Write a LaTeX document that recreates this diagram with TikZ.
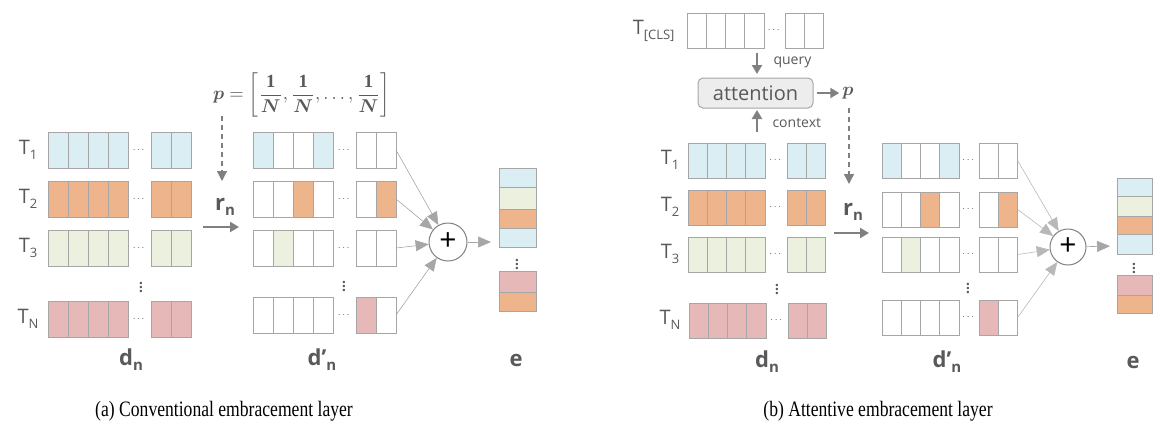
\documentclass[tikz,border=0pt]{standalone}
\usepackage{amsmath,bm}
\usepackage{fontspec}
\setmainfont{Liberation Serif}
\newfontfamily\osans{Open Sans}
\usetikzlibrary{arrows.meta}
\definecolor{cB}{HTML}{DAEEF3}
\definecolor{cO}{HTML}{EEB58C}
\definecolor{cG}{HTML}{EBF1DE}
\definecolor{cP}{HTML}{E6B9B8}
\definecolor{cW}{HTML}{FFFFFF}
\definecolor{txt}{HTML}{595959}
\definecolor{edgec}{HTML}{A6A6A6}
\definecolor{lite}{HTML}{B8B8B8}
\definecolor{arr}{HTML}{808080}
\newcommand\cw{20}
\newcommand\rh{36}
% #1 name, #2 x of first group, #3 x of second group, #4 top y, #5 six colours
\newcommand\vecrow[5]{%
  \foreach \col [count=\i] in {#5} {
    \ifnum\i<5 \pgfmathsetmacro\xx{#2+(\i-1)*\cw}\else\pgfmathsetmacro\xx{#3+(\i-5)*\cw}\fi
    \filldraw[cellbox, fill=\col] (\xx,#4) rectangle ++(\cw,\rh);
  }
  \node[hdots] (#1-d) at ({(#2+4*\cw+#3)/2}, {#4+\rh/2}) {$\cdots$};
  \coordinate (#1-e) at ({#3+2*\cw}, {#4+\rh/2});
}
\newcommand\tlab[1]{T\raisebox{-5pt}{\fontsize{13}{13}\selectfont #1}}
\newcommand\blab[2]{#1\raisebox{-5pt}{\fontsize{15}{15}\selectfont #2}}
\begin{document}
\begin{tikzpicture}[x=1pt,y=-1pt,
  cellbox/.style={draw=edgec, line width=1pt},
  hdots/.style={text=txt, inner sep=0pt},
  vdotsn/.style={text=txt, inner sep=0pt, font=\fontsize{15}{15}\selectfont\bfseries},
  tl/.style={text=txt, font=\fontsize{20}{21}\selectfont\osans},
  bl/.style={text=txt, font=\fontsize{22}{24}\selectfont\osans\bfseries},
  sl/.style={text=txt, font=\fontsize{14}{15}\selectfont\osans},
  fat/.style={draw=arr, line width=2.6pt, -{Triangle[length=9pt,width=10pt]}},
  thinarr/.style={draw=edgec, line width=0.6pt, -{Triangle[length=13pt,width=11pt]}},
  dasharr/.style={draw=arr, line width=1.3pt, dash pattern=on 5pt off 4pt, -{Triangle[length=10pt,width=10pt]}},
  plus/.style={circle, draw=arr, line width=1pt, minimum size=38pt, inner sep=0pt, fill=white,
    font=\fontsize{30}{30}\selectfont\osans, text=black},
  captext/.style={font=\fontsize{22}{24}\selectfont, text=black},
]
\useasboundingbox (0,0) rectangle (1173,432);

% ================= (a) =================
\node[tl] (ta1) at (28,150) {\tlab{1}};
\node[tl] (ta2) at (28,199) {\tlab{2}};
\node[tl] (ta3) at (28,248) {\tlab{3}};
\node[tl] (ta4) at (28,319) {\tlab{N}};
\vecrow{a1}{48}{151}{132}{cB,cB,cB,cB,cB,cB}
\vecrow{a2}{48}{151}{181}{cO,cO,cO,cO,cO,cO}
\vecrow{a3}{48}{151}{230}{cG,cG,cG,cG,cG,cG}
\vecrow{a4}{48}{151}{301}{cP,cP,cP,cP,cP,cP}
\node[vdotsn] (av) at (141,284) {$\vdots$};

\node[text=txt, anchor=west, inner sep=0pt] (pA) at (213,95)
  {\scalebox{1.85}{$\displaystyle \bm{p}=\left[\frac{\mathbf{1}}{\bm{N}},\frac{\mathbf{1}}{\bm{N}},\dots,\frac{\mathbf{1}}{\bm{N}}\right]$}};
\coordinate (pAs) at (222,116);
\coordinate (pAe) at (222,181);
\draw[dasharr] (pAs) -- (pAe);

\node[bl] (rA) at (225,207) {\blab{r}{n}};
\coordinate (rAs) at (203,227);
\coordinate (rAe) at (239,227);
\draw[fat] (rAs) -- (rAe);

\vecrow{b1}{253}{356}{132}{cB,cW,cW,cB,cW,cW}
\vecrow{b2}{253}{356}{181}{cW,cW,cO,cW,cW,cO}
\vecrow{b3}{253}{356}{230}{cW,cG,cW,cW,cW,cW}
\vecrow{b4}{253}{356}{297}{cW,cW,cW,cW,cP,cW}
\node[vdotsn] (bv) at (344,283) {$\vdots$};

\node[plus] (plA) at (448,242) {+};
\foreach \r in {b1,b2,b3,b4} \draw[thinarr] (\r-e) -- (plA);

\foreach \ya/\yb/\cc in {168/187/cB,187/209/cG,209/228/cO,228/247/cB,271/292/cP,292/311/cO}
  \filldraw[cellbox, fill=\cc] (499,\ya) rectangle (536,\yb);
\node[vdotsn] (ev) at (517,261) {$\vdots$};
\coordinate (eA) at (499,242);
\draw[thinarr, shorten >=8pt] (plA) -- (eA);

\node[bl] (dA) at (131,360) {\blab{d}{n}};
\node[bl] (dpA) at (322,360) {\blab{d’}{n}};
\node[bl] (eAl) at (516,360) {e};

\node[captext] (capA) at (224,411) {\scalebox{0.8}[1]{(a) Conventional embracement layer}};

% ================= (b) =================
\renewcommand\cw{19.3}
\renewcommand\rh{35}
\node[tl, anchor=east] (tcls) at (678,31) {T\raisebox{-5pt}{\fontsize{13}{13}\selectfont [CLS]}};
\vecrow{cls}{687}{785}{13}{cW,cW,cW,cW,cW,cW}

\node[rounded corners=5pt, draw=edgec, line width=1pt, fill=black!7, minimum width=115pt, minimum height=30pt,
  text=txt, font=\fontsize{20}{21}\selectfont\osans] (attn) at (755.5,93) {attention};
\coordinate (qs) at (757,53);
\coordinate (qe) at (757,74);
\draw[fat] (qs) -- (qe);
\node[sl, anchor=west] (ql) at (770,62) {query};
\coordinate (cs) at (757,132);
\coordinate (ce) at (757,110);
\draw[fat] (cs) -- (ce);
\node[sl, anchor=west] (cl) at (769,123) {context};
\node[text=txt, inner sep=1pt] (pB) at (848,93) {\scalebox{1.85}{$\bm{p}$}};
\draw[fat, shorten <=3pt, shorten >=2pt] (attn.east) -- (pB.west);
\coordinate (pBs) at (849,108);
\coordinate (pBe) at (849,184);
\draw[dasharr] (pBs) -- (pBe);

\node[tl] (tb1) at (670,160) {\tlab{1}};
\node[tl] (tb2) at (670,207) {\tlab{2}};
\node[tl] (tb3) at (670,254) {\tlab{3}};
\node[tl] (tb4) at (670,320) {\tlab{N}};
\vecrow{c1}{688}{787}{143}{cB,cB,cB,cB,cB,cB}
\vecrow{c2}{688}{787}{190}{cO,cO,cO,cO,cO,cO}
\vecrow{c3}{688}{787}{237}{cG,cG,cG,cG,cG,cG}
\vecrow{c4}{689}{788}{303}{cP,cP,cP,cP,cP,cP}
\node[vdotsn] (cv) at (777,286) {$\vdots$};

\node[bl] (rB) at (853,212) {\blab{r}{n}};
\coordinate (rBs) at (834,233);
\coordinate (rBe) at (869,233);
\draw[fat] (rBs) -- (rBe);

\vecrow{e1}{882}{979}{143}{cB,cW,cW,cB,cW,cW}
\vecrow{e2}{882}{979}{192}{cW,cW,cO,cW,cW,cO}
\vecrow{e3}{882}{979}{237}{cW,cG,cW,cW,cW,cW}
\vecrow{e4}{882}{979}{300}{cW,cW,cW,cW,cP,cW}
\node[vdotsn] (dv) at (968,285) {$\vdots$};

\node[plus, minimum size=36pt] (plB) at (1068,247) {+};
\foreach \r in {e1,e2,e3,e4} \draw[thinarr, draw=lite] (\r-e) -- (plB);

\foreach \ya/\yb/\cc in {178/196/cB,196/216/cG,216/234/cO,234/254/cB,275/295/cP,295/313/cO}
  \filldraw[cellbox, fill=\cc] (1117,\ya) rectangle (1152,\yb);
\node[vdotsn] (fv) at (1134,265) {$\vdots$};
\coordinate (eB) at (1117,246);
\draw[thinarr, shorten >=7pt] (plB) -- (eB);

\node[bl] (dB) at (767,362) {\blab{d}{n}};
\node[bl] (dpB) at (947,362) {\blab{d’}{n}};
\node[bl] (eBl) at (1133,362) {e};

\node[captext] (capB) at (878,411) {\scalebox{0.8}[1]{(b) Attentive embracement layer}};
\end{tikzpicture}
\end{document}
